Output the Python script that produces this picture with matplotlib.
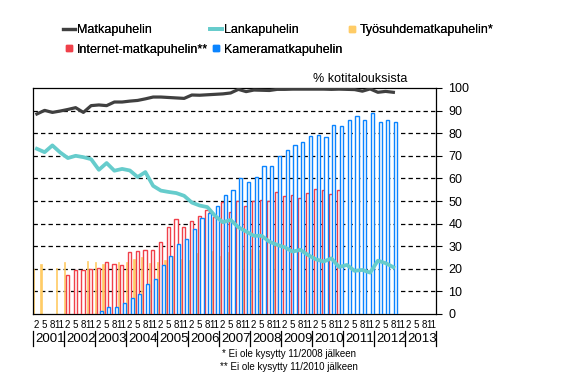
import numpy as np
import matplotlib.pyplot as plt
from matplotlib.lines import Line2D

# kyselyt helmi-, touko-, elo- ja marraskuussa 2/2001 - 8/2012
kyselyt = [f"{v}-{k:02d}" for v in range(2001, 2013) for k in (2, 5, 8, 11)][:47]

matkapuhelin = [88.5, 90.1, 89.2, 89.8,
                90.5, 91.3, 89.2, 92.2,
                92.5, 92.2, 93.8, 93.8,
                94.2, 94.5, 95.2, 96.0,
                96.0, 95.8, 95.6, 95.4,
                96.9, 96.8, 97.0, 97.2,
                97.4, 97.8, 99.4, 98.4,
                99.1, 99.0, 98.9, 99.4,
                99.4, 99.5, 99.5, 99.5,
                99.5, 99.5, 99.4, 99.5,
                99.4, 99.3, 98.6, 99.6,
                98.1, 98.5, 98.1]

lankapuhelin = [73.1, 71.6, 74.6, 71.5,
                69.0, 70.0, 69.4, 68.5,
                63.8, 66.8, 63.4, 64.2,
                63.5, 60.6, 62.8, 56.7,
                54.6, 54.0, 53.5, 52.3,
                49.3, 48.0, 47.3, 43.4,
                40.6, 41.6, 38.4, 36.5,
                34.6, 34.6, 32.0, 30.6,
                29.5, 27.6, 28.4, 26.1,
                24.2, 23.2, 24.6, 20.8,
                21.7, 19.1, 19.5, 18.3,
                23.6, 22.5, 20.7]

# 2/2001 - 11/2008
tyosuhde = [19.8, 22.2, None, 20.2,
            23.0, None, None, 23.5,
            22.9, 22.2, None, 22.9,
            23.2, 24.5, 25.1, 22.5,
            23.2, 23.9, 25.7, 24.5,
            23.8, 26.8, 28.4, 28.0,
            25.7, 27.4, None, 28.4,
            28.6, 28.1, None, 30.5]

# 2/2002 - 11/2010
internet = [17.3, 19.5, 19.5, 19.9,
            20.2, 22.9, 22.2, 21.7,
            27.4, 27.8, 28.4, 28.4,
            31.8, 38.4, 42.0, 38.4,
            41.2, 43.5, 46.1, 43.1,
            49.5, 45.3, 49.8, 47.8,
            50.2, 50.5, 50.2, 54.2,
            52.3, 52.7, 51.5, 53.7,
            55.4, 54.9, 53.2, 54.9]

# 2/2003 - 8/2012
kamera = [1.3, 3.2, 3.0, 5.0,
          7.1, 9.0, 13.3, 15.5,
          21.7, 25.7, 31.0, 33.2,
          37.5, 42.4, 44.6, 47.8,
          52.7, 54.9, 60.1, 58.6,
          60.8, 65.6, 65.6, 69.7,
          72.7, 74.9, 76.2, 78.9,
          79.3, 78.4, 83.7, 83.3,
          86.0, 87.7, 86.0, 88.9,
          84.9, 86.0, 84.9]

vuodet = list(range(2001, 2014))
kuukausi_tikit = [2, 5, 8, 11]

c_matka = '#404040'
c_lanka = '#66CCCC'
c_tyo = '#FFCC66'
c_net = '#F0404A'
c_kam = '#0A84FF'

plt.rcParams['font.family'] = ['Liberation Sans', 'DejaVu Sans']


def kk(s):
    v, k = s.split('-')
    return (int(v) - 2001) * 12 + int(k) - 1


x_all = np.array([kk(s) for s in kyselyt], dtype=float)

fig = plt.figure(figsize=(5.61, 3.74), dpi=100)
ax = fig.add_axes([33 / 561, 60 / 374, 403 / 561, 226 / 374])

# pylväät
x_tyo = x_all[:len(tyosuhde)]
ok = [v is not None for v in tyosuhde]
ax.bar(x_tyo[ok] - 0.9, [v for v in tyosuhde if v is not None], width=0.45,
       color=c_tyo, edgecolor=c_tyo, linewidth=0.5, zorder=2)
x_net = x_all[4:4 + len(internet)]
ax.bar(x_net + 0.35, internet, width=1.2, facecolor='white', edgecolor=c_net,
       linewidth=1.0, zorder=3)
x_kam = x_all[8:8 + len(kamera)]
ax.bar(x_kam + 1.4, kamera, width=1.2, facecolor='white', edgecolor=c_kam,
       linewidth=1.0, zorder=4)

# viivat
ax.plot(x_all + 0.5, matkapuhelin, color=c_matka, lw=2.3, zorder=6)
ax.plot(x_all + 0.5, lankapuhelin, color=c_lanka, lw=2.7, zorder=6)

ax.set_xlim(0, 156)
ax.set_ylim(0, 100)
ax.set_yticks(range(0, 101, 10))
ax.yaxis.tick_right()
ax.tick_params(axis='y', direction='out', length=4, width=0.8, pad=5,
               labelsize=9)
for y in range(10, 100, 10):
    ax.axhline(y, color='black', lw=0.9, ls=(0, (3.5, 2.5)), zorder=1)
for s in ax.spines.values():
    s.set_linewidth(0.9)

pos = [(v - 2001) * 12 + k - 1 + 0.3 for v in vuodet for k in kuukausi_tikit]
lab = [str(k) for v in vuodet for k in kuukausi_tikit]
ax.set_xticks(pos)
ax.set_xticklabels(lab, fontsize=7)
ax.tick_params(axis='x', length=0, pad=4)

tr = ax.get_xaxis_transform()
for i, v in enumerate(vuodet):
    ax.text(i * 12 + 6.6, -0.11, str(v), transform=tr, ha='center', va='center',
            fontsize=9.5)
for i in range(len(vuodet) + 1):
    ax.plot([i * 12, i * 12], [-0.075, -0.14], transform=tr, color='black',
            lw=0.9, clip_on=False)

fig.text(407 / 561, 1 - 79 / 374, '% kotitalouksista', ha='right', va='center',
         fontsize=9)
fig.text(222 / 561, 1 - 354 / 374, '* Ei ole kysytty 11/2008 jälkeen',
         fontsize=7, va='center')
fig.text(220 / 561, 1 - 367 / 374, '** Ei ole kysytty 11/2010 jälkeen',
         fontsize=7, va='center')

# selite kolmena sarakkeena
sarakkeet = [
    ([Line2D([], [], color=c_matka, lw=2.3),
      Line2D([], [], marker='s', ls='none', color=c_net, markersize=5)],
     ['Matkapuhelin', 'Internet-matkapuhelin**'], 63),
    ([Line2D([], [], color=c_lanka, lw=2.7),
      Line2D([], [], marker='s', ls='none', color=c_kam, markersize=5)],
     ['Lankapuhelin', 'Kameramatkapuhelin'], 210),
    ([Line2D([], [], marker='s', ls='none', color=c_tyo, markersize=5)],
     ['Työsuhdematkapuhelin*'], 346),
]
for h, l, xp in sarakkeet:
    leg = fig.legend(h, l, loc='upper left', bbox_to_anchor=(xp / 561, 1 - 24 / 374),
                     frameon=False, borderpad=0, borderaxespad=0,
                     handlelength=0.95, handletextpad=0.15, labelspacing=0.6,
                     fontsize=9)
    fig.add_artist(leg)

fig.savefig('out.png', dpi=100)
